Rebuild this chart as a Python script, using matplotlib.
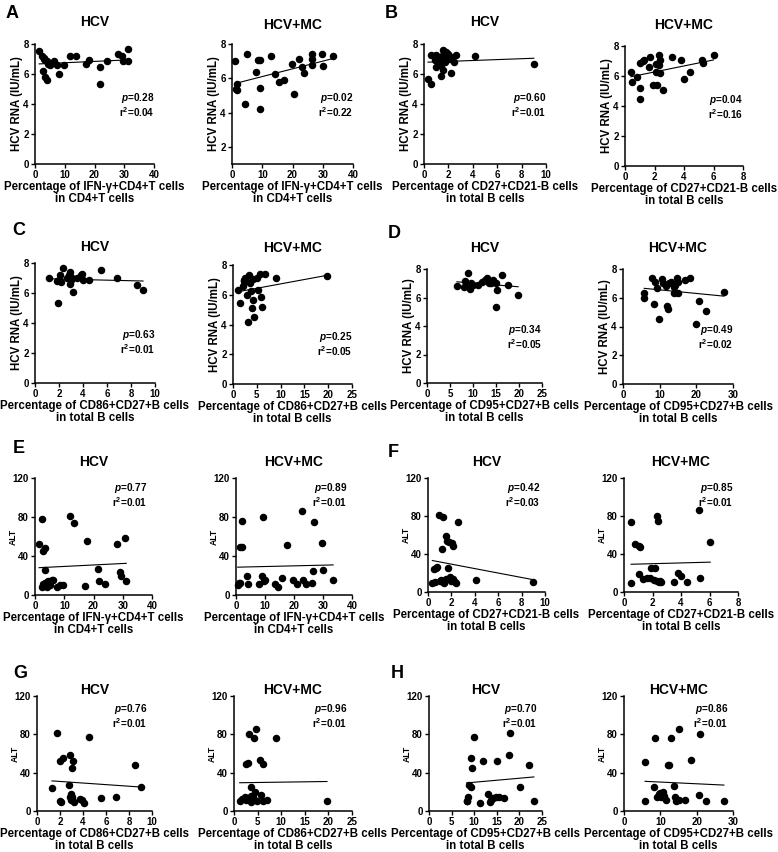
import numpy as np
import matplotlib
matplotlib.use('Agg')
import matplotlib.pyplot as plt

plt.rcParams['font.family'] = ['Liberation Sans', 'DejaVu Sans']
plt.rcParams['font.weight'] = 'bold'
plt.rcParams['mathtext.fontset'] = 'custom'
plt.rcParams['mathtext.rm'] = 'Liberation Sans:bold'
plt.rcParams['mathtext.bf'] = 'Liberation Sans:bold'
plt.rcParams['mathtext.it'] = 'Liberation Sans:italic:bold'
plt.rcParams['mathtext.default'] = 'rm'

# ============================================================
# DATA
# ============================================================
# A: HCV RNA vs IFN-g+CD4+T
a_hcv_x = [1.4, 2.3, 2.9, 3.5, 4.0, 2.6, 3.5, 4.0, 3.0, 5.1, 5.7, 6.3, 7.4, 8.2, 9.6,
           11.6, 13.9, 17.2, 18.0, 21.9, 21.7, 24.1, 28.0, 29.1, 29.7, 31.2, 31.4, 4.5]
a_hcv_y = [7.55, 7.2, 7.1, 6.95, 6.85, 6.2, 5.8, 5.58, 7.0, 6.6, 6.75, 6.85, 6.6, 6.0, 6.6,
           7.2, 7.2, 6.7, 6.95, 6.5, 5.35, 6.87, 7.35, 7.2, 6.85, 6.85, 7.65, 6.7]
a_mc_x = [1.0, 1.3, 1.7, 1.8, 4.2, 4.8, 7.9, 8.6, 9.3, 9.4, 9.2, 13.0, 14.3, 15.4, 17.2,
          19.8, 20.6, 22.3, 23.1, 23.8, 26.3, 26.5, 26.5, 29.9, 30.0, 33.5]
a_mc_y = [7.0, 5.4, 5.3, 5.65, 4.5, 7.42, 6.35, 7.05, 7.05, 5.45, 4.2, 7.3, 6.27, 5.8, 5.9,
          6.85, 5.1, 7.1, 6.65, 6.3, 7.4, 6.8, 7.1, 7.4, 6.7, 7.3]

# B: HCV RNA vs CD27+CD21-B
b_hcv_x = [0.33, 0.6, 0.55, 1.0, 1.56, 1.84, 2.0, 1.37, 1.56, 1.42, 2.25, 2.66, 2.5, 4.16, 9.0,
           1.15, 1.3, 1.7, 1.84, 2.1, 1.56, 0.88, 1.0, 1.42, 2.3, 1.2, 0.8]
b_hcv_y = [5.65, 5.35, 7.3, 7.3, 7.58, 7.47, 7.36, 6.58, 6.3, 5.85, 6.05, 7.3, 6.78, 7.2, 6.65,
           7.09, 6.91, 6.8, 7.13, 7.02, 7.25, 6.95, 6.47, 7.02, 7.13, 6.75, 7.2]
b_mc_x = [0.4, 0.45, 0.8, 1.0, 1.0, 1.0, 1.2, 1.3, 1.6, 1.7, 1.9, 2.1, 2.1, 2.2, 2.3, 2.3,
          2.4, 2.4, 2.6, 3.2, 3.8, 4.0, 4.4, 5.2, 5.3, 6.0]
b_mc_y = [6.3, 5.6, 5.95, 4.5, 5.2, 6.9, 7.0, 7.05, 6.6, 7.3, 5.4, 6.3, 6.8, 5.4, 6.75, 7.4,
          7.1, 6.2, 5.1, 7.25, 7.05, 5.8, 6.3, 7.1, 6.85, 7.4]

# C: HCV RNA vs CD86+CD27+B
c_hcv_x = [1.2, 1.8, 1.9, 2.0, 2.1, 2.2, 2.3, 2.7, 2.8, 2.9, 2.9, 3.0, 3.0, 3.2, 3.5, 3.8,
           3.9, 4.0, 4.5, 5.5, 6.8, 8.5, 9.0]
c_hcv_y = [7.0, 6.8, 5.35, 6.9, 7.2, 6.75, 7.7, 7.0, 7.2, 6.6, 7.4, 6.9, 7.1, 6.05, 7.0, 7.2,
           7.25, 6.9, 6.9, 7.55, 7.0, 6.55, 6.2]
c_mc_x = [1.0, 1.5, 2.0, 2.3, 2.5, 2.8, 3.0, 3.1, 3.3, 3.5, 3.7, 4.0, 4.3, 4.3, 4.5, 5.0,
          5.3, 5.6, 5.8, 6.1, 6.8, 9.1, 19.7, 2.4]
c_mc_y = [6.3, 5.45, 6.6, 7.0, 7.1, 6.9, 5.95, 4.2, 7.3, 6.8, 6.25, 5.1, 5.65, 7.05, 4.5, 7.15,
          6.3, 7.4, 5.85, 5.2, 7.4, 7.1, 7.25, 6.9]

# D: HCV RNA vs CD95+CD27+B
d_hcv_x = [6.5, 8.0, 8.3, 8.8, 9.0, 9.3, 9.5, 10.0, 11.0, 12.0, 12.5, 13.0, 13.5, 14.0, 14.3,
           15.0, 15.0, 15.2, 16.3, 17.5, 19.8]
d_hcv_y = [6.8, 6.75, 7.15, 6.9, 7.7, 6.6, 7.0, 6.85, 6.85, 7.1, 7.2, 7.4, 7.05, 7.0, 7.2,
           7.05, 5.35, 6.55, 7.55, 6.9, 6.2]
d_mc_x = [5.8, 5.8, 8.0, 8.5, 8.8, 9.2, 9.8, 10.5, 11.0, 11.8, 12.0, 12.4, 12.5, 13.2, 13.8,
          14.0, 14.3, 14.8, 15.0, 15.0, 16.8, 18.4, 20.0, 20.6, 22.5, 27.5]
d_mc_y = [6.35, 5.95, 7.4, 5.6, 7.1, 6.65, 4.5, 7.3, 7.0, 6.85, 5.45, 5.2, 7.0, 7.1, 6.75,
          6.3, 6.9, 7.4, 6.3, 7.1, 7.25, 7.4, 4.2, 5.8, 5.1, 6.4]

# E: ALT vs IFN-g+CD4+T
e_hcv_x = [1.4, 2.5, 2.5, 2.9, 3.4, 3.4, 3.4, 4.0, 4.6, 5.1, 5.7, 6.3, 2.9, 4.0, 7.4, 8.6,
           9.5, 11.8, 13.5, 17.1, 17.9, 21.7, 21.9, 24.0, 28.0, 28.9, 29.5, 30.9, 31.2]
e_hcv_y = [52, 78, 8.6, 45, 48, 26, 12, 8.6, 14, 10, 15, 15, 11, 13, 8.6, 10,
           10, 81, 74, 9.6, 55, 27, 14, 11, 52, 24, 19, 58, 14]
e_mc_x = [0.6, 0.9, 1.3, 2.1, 2.1, 1.5, 3.8, 4.3, 7.8, 8.9, 9.3, 9.5, 10.0, 13.3, 14.6, 15.8,
          17.5, 19.8, 20.9, 22.6, 23.2, 24.1, 26.1, 26.4, 26.9, 29.8, 30.1, 33.5]
e_mc_y = [10, 12, 49, 49, 76, 12, 19, 11, 11, 20, 80, 14, 15, 11, 8.6, 17,
          51, 15, 11, 86, 15, 11, 12, 25, 75, 53, 26, 15]

# F: ALT vs CD27+CD21-B
f_hcv_x = [0.37, 0.5, 0.65, 0.8, 0.9, 1.3, 1.2, 1.0, 1.14, 1.3, 1.4, 1.56, 1.56, 1.65, 1.7,
           1.8, 1.85, 1.99, 2.05, 2.13, 2.13, 2.27, 2.4, 2.56, 4.06, 9.0, 0.57]
f_hcv_y = [9.5, 24, 25, 26, 81, 79, 45, 12, 13, 11, 9.5, 14, 58.6, 54, 25,
           52.6, 16, 12, 51.6, 48, 14, 11, 9.5, 74, 13, 10.5, 11]
f_mc_x = [0.5, 0.5, 0.8, 1.05, 1.1, 1.05, 1.35, 1.6, 1.8, 1.9, 2.1, 2.2, 2.3, 2.35, 2.4,
          2.45, 2.5, 2.6, 3.5, 3.8, 4.0, 4.4, 5.25, 5.35, 6.05]
f_mc_y = [74, 10, 51, 48, 47, 19, 14, 15, 15, 25, 13, 25, 12, 80, 75,
          10.5, 12, 10.5, 10.5, 20, 17, 10.5, 86, 15, 53]

# G: ALT vs CD86+CD27+B
g_hcv_x = [1.3, 1.74, 1.97, 2.03, 2.1, 2.3, 2.75, 2.84, 2.9, 2.96, 3.0, 3.13, 3.04, 3.2,
           3.77, 3.9, 4.06, 4.5, 5.57, 6.87, 8.55, 9.04, 2.96]
g_hcv_y = [24, 81, 52, 10.5, 9.5, 55, 27, 58, 14.6, 18, 45, 52, 14.6, 9.5,
           13, 11, 8.7, 77.5, 14, 15, 48, 25, 12]
g_mc_x = [1.2, 1.8, 2.3, 2.6, 3.0, 3.2, 3.5, 3.7, 3.7, 4.05, 4.2, 4.6, 4.5, 4.9, 5.5, 5.8,
          6.2, 6.2, 7.0, 9.0, 19.7, 2.6]
g_mc_y = [10.5, 13, 14.6, 49, 50, 80, 16, 25, 9.5, 14.6, 75.7, 86, 20, 10, 53, 16.4,
          49, 10.5, 12, 75.7, 10.5, 12]

# H: ALT vs CD95+CD27+B
h_hcv_x = [8.3, 8.7, 8.8, 9.3, 9.4, 9.6, 9.9, 11.25, 12.0, 13.1, 13.4, 13.8, 14.2, 14.9,
           15.1, 15.5, 16.6, 17.6, 18.0, 20.1, 22.1, 23.2, 8.5]
h_hcv_y = [10.5, 14.6, 27, 55.6, 25, 45, 77, 8.7, 52, 18, 9.5, 11, 14, 14.6,
           52, 15, 14, 58, 81, 25, 48, 10.5, 10]
h_mc_x = [5.8, 5.8, 8.5, 8.3, 9.0, 9.5, 10.0, 10.3, 10.8, 11.0, 11.5, 12.0, 12.4, 13.0, 13.8,
          14.0, 14.2, 14.5, 15.0, 15.0, 16.8, 18.4, 20.6, 21.0, 22.5, 27.5]
h_mc_y = [10.5, 51, 75.7, 25, 14.6, 18, 19, 15, 20, 16, 12, 48, 48, 75.7, 26,
          14.6, 10.5, 12, 86, 11, 11, 53, 16.4, 80, 10.5, 10.5]

# regression lines (intercept, slope) and statistics
fit_intercepts = [6.66, 5.65, 6.78, 5.87, 6.97, 6.14, 7.27, 6.8,
                  27.8, 28.5, 34.0, 29.0, 32.5, 29.4, 25.8, 32.0]
fit_slopes = [0.009, 0.045, 0.03, 0.2, -0.019, 0.059, -0.026, -0.025,
              0.15, 0.07, -2.34, 0.4, -0.83, 0.07, 0.42, -0.18]
p_values = ['0.28', '0.02', '0.60', '0.04', '0.63', '0.25', '0.34', '0.49',
            '0.77', '0.89', '0.42', '0.85', '0.76', '0.96', '0.70', '0.86']
r2_values = ['0.04', '0.22', '0.01', '0.16', '0.01', '0.05', '0.05', '0.02',
             '0.01', '0.01', '0.03', '0.01', '0.01', '0.01', '0.01', '0.01']

groups = ['HCV', 'HCV+MC']
panel_letters = ['A', 'B', 'C', 'D', 'E', 'F', 'G', 'H']
xlabel_ifn = 'Percentage of IFN-\u03b3+CD4+T cells\nin CD4+T cells'
xlabel_cd21 = 'Percentage of CD27+CD21-B cells\nin total B cells'
xlabel_cd86 = 'Percentage of CD86+CD27+B cells\nin total B cells'
xlabel_cd95 = 'Percentage of CD95+CD27+B cells\nin total B cells'

xs = [a_hcv_x, a_mc_x, b_hcv_x, b_mc_x, c_hcv_x, c_mc_x, d_hcv_x, d_mc_x,
      e_hcv_x, e_mc_x, f_hcv_x, f_mc_x, g_hcv_x, g_mc_x, h_hcv_x, h_mc_x]
ys = [a_hcv_y, a_mc_y, b_hcv_y, b_mc_y, c_hcv_y, c_mc_y, d_hcv_y, d_mc_y,
      e_hcv_y, e_mc_y, f_hcv_y, f_mc_y, g_hcv_y, g_mc_y, h_hcv_y, h_mc_y]
xmaxes = [40, 40, 10, 8, 10, 25, 25, 30, 40, 40, 10, 8, 10, 25, 25, 30]
xsteps = [10, 10, 2, 2, 2, 5, 5, 10, 10, 10, 2, 2, 2, 5, 5, 10]
xlabels = [xlabel_ifn, xlabel_ifn, xlabel_cd21, xlabel_cd21, xlabel_cd86, xlabel_cd86,
           xlabel_cd95, xlabel_cd95] * 2

# ============================================================
# LAYOUT (pixel boxes: left, top, right, bottom)
# ============================================================
W, H = 778, 852
boxes = [(35, 44, 154, 164), (232, 44, 353, 164), (424, 44, 546, 164), (625, 46, 743, 166),
         (35, 263, 155, 383), (233, 265, 352, 384), (427, 269, 542, 383), (623, 269, 733, 384),
         (35, 478, 152, 595), (236, 478, 352, 595), (428, 478, 545, 592), (624, 478, 738, 592),
         (37, 696, 152, 811), (234, 696, 352, 811), (429, 696, 542, 811), (624, 696, 733, 811)]
title_base = [26, 29, 26, 29, 251, 252, 252, 252, 466, 466, 466, 466, 694, 694, 694, 694]
letter_pos = [(6, 18), (385, 18), (12, 235), (388, 238),
              (13, 453), (388, 457), (13, 678), (391, 678)]
# p / r2 block: right edge (axes frac), top of block (px below axes top)
stat_pos = [(1.0, 47)] * 4 + [(1.0, 65)] * 2 + [(1.0, 54)] * 2 \
           + [(0.96, 3)] * 4 + [(0.96, 6)] * 4

fig = plt.figure(figsize=(W / 100, H / 100), dpi=100)

for i in range(16):
    l, t, r, b = boxes[i]
    ax = fig.add_axes([l / W, 1 - b / H, (r - l) / W, (b - t) / H])
    w_px, h_px = r - l, b - t
    x = np.array(xs[i])
    y = np.array(ys[i])
    ax.plot(x, y, 'o', color='black', ms=4.4, mec='black', clip_on=False, zorder=3)
    xx = np.array([x.min(), x.max()])
    ax.plot(xx, fit_intercepts[i] + fit_slopes[i] * xx, color='black', lw=0.8)

    ax.set_xlim(0, xmaxes[i])
    ax.set_xticks(np.arange(0, xmaxes[i] + 0.1, xsteps[i]))
    alt = i >= 8
    if alt:
        ax.set_ylim(0, 120)
        ax.set_yticks([0, 40, 80, 120])
    elif i == 1:
        ax.set_ylim(1, 8)
        ax.set_yticks([2, 4, 6, 8])
    else:
        ax.set_ylim(0, 8)
        ax.set_yticks([0, 2, 4, 6, 8])

    for s in ['top', 'right']:
        ax.spines[s].set_visible(False)
    for s in ['left', 'bottom']:
        ax.spines[s].set_linewidth(1.1)
    ax.tick_params(direction='out', length=3, width=1, labelsize=7, pad=1.5)
    for lab in ax.get_xticklabels() + ax.get_yticklabels():
        lab.set_fontweight('bold')

    # y label
    if alt:
        ax.text(-22 / w_px, 0.5, 'ALT', rotation=90, ha='center', va='center',
                fontsize=6.2, fontweight='bold', transform=ax.transAxes)
    else:
        ax.text(-18 / w_px, 0.5, 'HCV RNA (IU/mL)', rotation=90, ha='center', va='center',
                fontsize=8.3, fontweight='bold', transform=ax.transAxes)
    # x label
    ax.text(0.5, -17 / h_px, xlabels[i], ha='center', va='top', fontsize=8.3,
            fontweight='bold', linespacing=1.05, transform=ax.transAxes)

    # title
    fig.text((l + r) / 2 / W, 1 - title_base[i] / H, groups[i % 2], ha='center',
             va='baseline', fontsize=10, fontweight='bold')

    # statistics (one two-line block)
    xr, top = stat_pos[i]
    stat_txt = r'$\mathit{p}$=' + p_values[i] + '\n' + r'r$^{2}$=' + r2_values[i]
    ax.text(xr, 1 - top / h_px, stat_txt, ha='right', va='top', multialignment='right',
            linespacing=1.0, fontsize=7.2, fontweight='bold', transform=ax.transAxes)

for k, letter in enumerate(panel_letters):
    px, py = letter_pos[k]
    fig.text(px / W, 1 - py / H, letter, ha='left', va='baseline', fontsize=13,
             fontweight='bold')

plt.savefig('out.png', dpi=100)
